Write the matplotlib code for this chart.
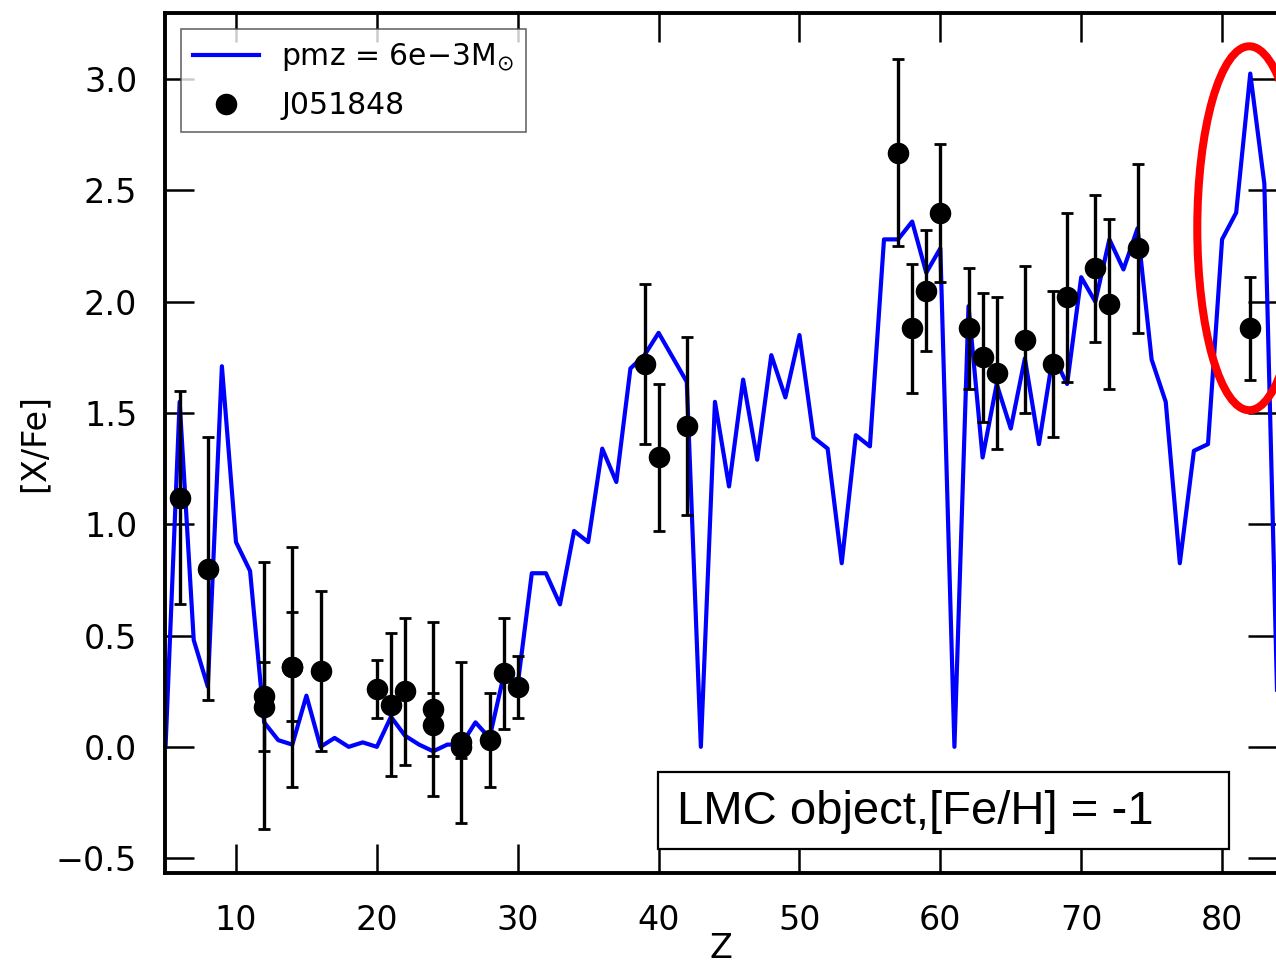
import matplotlib
matplotlib.use("Agg")
import matplotlib.pyplot as plt
from matplotlib.patches import Ellipse, Rectangle

# model abundance pattern, Z = 5..84
model_z = list(range(5, 85))
model_xfe = [
    0.00, 1.55, 0.48, 0.27, 1.71, 0.92, 0.79, 0.11, 0.03, 0.01,   # 5-14
    0.23, 0.00, 0.04, 0.00, 0.02, 0.00, 0.135, 0.05, 0.01, -0.02,  # 15-24
    0.01, 0.01, 0.11, 0.04, 0.32, 0.28, 0.78, 0.78, 0.64, 0.97,    # 25-34
    0.92, 1.34, 1.19, 1.70, 1.76, 1.86, 1.75, 1.64, 0.00, 1.55,    # 35-44
    1.17, 1.65, 1.29, 1.76, 1.57, 1.85, 1.39, 1.34, 0.825, 1.40,   # 45-54
    1.35, 2.28, 2.28, 2.36, 2.13, 2.24, 0.00, 1.98, 1.30, 1.63,    # 55-64
    1.43, 1.745, 1.36, 1.76, 1.63, 2.11, 2.00, 2.28, 2.145, 2.33,  # 65-74
    1.74, 1.55, 0.825, 1.33, 1.36, 2.28, 2.40, 3.025, 2.53, 0.00,  # 75-84
]

# observed abundances of J051848
obs_z = [6, 8, 12, 12, 14, 14, 16, 20, 21, 22, 24, 24, 26, 26, 28, 29, 30,
         39, 40, 42, 57, 58, 59, 60, 62, 63, 64, 66, 68, 69, 71, 72, 74, 82]
obs_xfe = [1.12, 0.80, 0.23, 0.18, 0.36, 0.36, 0.34, 0.26, 0.19, 0.25, 0.17,
           0.10, 0.02, 0.00, 0.03, 0.33, 0.27, 1.72, 1.30, 1.44, 2.67, 1.88,
           2.05, 2.40, 1.88, 1.75, 1.68, 1.83, 1.72, 2.02, 2.15, 1.99, 2.24, 1.88]
obs_err = [0.48, 0.59, 0.60, 0.20, 0.54, 0.245, 0.36, 0.13, 0.32, 0.33, 0.39,
           0.14, 0.36, 0.05, 0.21, 0.25, 0.14, 0.36, 0.33, 0.40, 0.42, 0.29,
           0.27, 0.31, 0.27, 0.29, 0.34, 0.33, 0.33, 0.38, 0.33, 0.38, 0.38, 0.23]

fig = plt.figure(figsize=(12.76, 9.65), dpi=100)
ax = fig.add_axes([0.1293, 0.0953, 0.8715, 0.8912])

ax.plot(model_z, model_xfe, color=(0, 0, 1), lw=3.0,
        label='pmz = 6e\u22123M$_{\\odot}$', zorder=2)
ax.errorbar(obs_z, obs_xfe, yerr=obs_err, fmt='none', ecolor='black',
            elinewidth=2.4, capsize=4, capthick=2, zorder=3)
ax.plot(obs_z, obs_xfe, 'o', color='black', ms=14.5, label='J051848', zorder=4)

# highlight around the lead peak
ax.add_patch(Ellipse((81.93, 2.33), 7.38, 1.635, fill=False,
                     edgecolor='red', lw=5.8, zorder=5))

ax.set_xlim(4.96, 83.9)
ax.set_ylim(-0.567, 3.297)
ax.set_xticks([10, 20, 30, 40, 50, 60, 70, 80])
ax.set_yticks([-0.5, 0.0, 0.5, 1.0, 1.5, 2.0, 2.5, 3.0])

for s in ax.spines.values():
    s.set_linewidth(2.8)
ax.tick_params(direction='in', length=21, width=1.8, top=True, right=True,
               labelsize=24)
ax.tick_params(axis='y', pad=20)
ax.tick_params(axis='x', pad=22)
ax.set_xlabel('Z', fontsize=24, labelpad=-3)
ax.set_ylabel('[X/Fe]', fontsize=24, labelpad=4)

leg = ax.legend(loc='upper left', bbox_to_anchor=(0.0144, 0.9814),
                borderaxespad=0, fontsize=21.5, fancybox=False,
                handlelength=2.2, handletextpad=0.75, labelspacing=0.62,
                borderpad=0.4, numpoints=1)
leg.get_frame().set_edgecolor('#444444')
leg.get_frame().set_linewidth(1.2)

# annotation box
ax.add_patch(Rectangle((0.4433, 0.0279), 0.5135, 0.0895, transform=ax.transAxes,
                       fill=True, facecolor='white', edgecolor='black', lw=1.6,
                       zorder=6))
ax.text(0.4604, 0.0709, 'LMC object,[Fe/H] = -1', transform=ax.transAxes,
        fontsize=34, va='center', ha='left', zorder=7, family='Liberation Sans')

fig.savefig('out.png', dpi=100)
